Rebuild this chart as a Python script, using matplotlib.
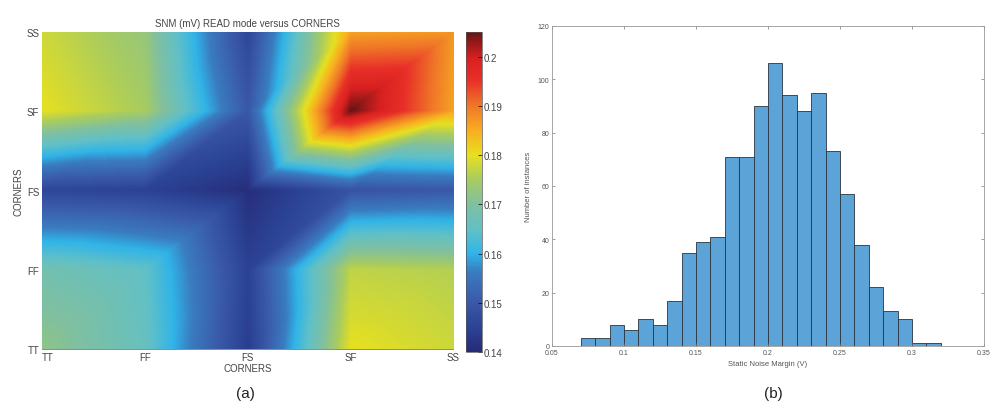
import numpy as np
import matplotlib.pyplot as plt
import matplotlib.tri as mtri
from matplotlib.colors import LinearSegmentedColormap

plt.rcParams['font.family'] = ['Liberation Sans', 'DejaVu Sans']

# -------------------------------------------------------------------
# ------------ DATA
# -------------------------------------------------------------------

# process corners on both axes (bottom -> top, left -> right)
corners = ['TT', 'FF', 'FS', 'SF', 'SS']

# SNM values, one list per y corner, cols = x corner (TT..SS)
snm_tt = [0.172, 0.166, 0.144, 0.180, 0.178]
snm_ff = [0.168, 0.165, 0.145, 0.177, 0.176]
snm_fs = [0.146, 0.145, 0.141, 0.149, 0.150]
snm_sf = [0.180, 0.175, 0.150, 0.205, 0.186]
snm_ss = [0.178, 0.173, 0.146, 0.186, 0.187]

# histogram of static noise margin (Monte Carlo)
bin_edges = [0.07, 0.08, 0.09, 0.10, 0.11, 0.12, 0.13, 0.14, 0.15, 0.16, 0.17, 0.18, 0.19,
             0.20, 0.21, 0.22, 0.23, 0.24, 0.25, 0.26, 0.27, 0.28, 0.29, 0.30, 0.31, 0.32]
counts = [3, 3, 8, 6, 10, 8, 17, 35, 39, 41, 71, 71, 90,
          106, 94, 88, 95, 73, 57, 38, 22, 13, 10, 1, 1]

# colours sampled from the printed colour bar (jet-like)
cmap_colors = ['#262a78', '#2c4496', '#3a58a8', '#3a7cc0', '#30b4e8', '#60c0c8', '#80c0a0',
               '#a8cc60', '#e6e020', '#f8b020', '#f07828', '#e83028', '#d82020', '#6a1414']
cmap_pos = [0.0, 0.08, 0.154, 0.25, 0.308, 0.38, 0.462, 0.54, 0.615, 0.69, 0.77, 0.85, 0.92, 1.0]

# -------------------------------------------------------------------
# ------------ PLOT
# -------------------------------------------------------------------

cmap = LinearSegmentedColormap.from_list('printjet', list(zip(cmap_pos, cmap_colors)))

fig = plt.figure(figsize=(9.94, 4.10), dpi=100)

# (a) corner map -- each cell split in two triangles, values interpolated linearly
ax1 = fig.add_axes([0.0423, 0.1463, 0.4135, 0.7732])
grid = np.array([snm_tt, snm_ff, snm_fs, snm_sf, snm_ss])
n = len(corners)
gx, gy = np.meshgrid(np.arange(1, n + 1), np.arange(1, n + 1))
tris = []
for j in range(n - 1):
    for i in range(n - 1):
        k = j * n + i
        tris.append([k, k + 1, k + n + 1])
        tris.append([k, k + n + 1, k + n])
tri = mtri.Triangulation(gx.ravel(), gy.ravel(), tris)
interp = mtri.LinearTriInterpolator(tri, grid.ravel())
fx, fy = np.meshgrid(np.linspace(1, n, 600), np.linspace(1, n, 480))
fz = interp(fx, fy)
im = ax1.imshow(fz, origin='lower', extent=(1, n, 1, n), aspect='auto', cmap=cmap,
                vmin=0.14, vmax=0.205, interpolation='bilinear')
ax1.set_xlim(1, n)
ax1.set_ylim(1, n)
ax1.set_xticks(range(1, n + 1))
ax1.set_yticks(range(1, n + 1))
ax1.set_xticklabels(corners, fontsize=7, color='#444444')
ax1.set_yticklabels(corners, fontsize=7, color='#444444')
ax1.tick_params(length=0, pad=2)
ax1.get_xticklabels()[0].set_horizontalalignment('left')
for s in ax1.spines.values():
    s.set_visible(False)
ax1.spines['bottom'].set_visible(True)
ax1.spines['bottom'].set_color('#777777')
ax1.spines['bottom'].set_linewidth(0.6)
ax1.set_xlabel('CORNERS', fontsize=7, color='#444444', labelpad=1)
ax1.set_ylabel('CORNERS', fontsize=7, color='#444444', labelpad=2)
ax1.set_title('SNM (mV) READ mode versus CORNERS', fontsize=7, color='#444444', pad=4)

cax = fig.add_axes([0.4688, 0.139, 0.0161, 0.780])
cb = fig.colorbar(im, cax=cax, ticks=[0.14, 0.15, 0.16, 0.17, 0.18, 0.19, 0.2])
cb.ax.set_yticklabels(['0.14', '0.15', '0.16', '0.17', '0.18', '0.19', '0.2'])
cb.ax.tick_params(labelsize=7, labelcolor='#444444', length=3, width=0.5, direction='in', pad=1)
cb.outline.set_linewidth(0.5)
cb.outline.set_edgecolor('#555555')

# (b) histogram
ax2 = fig.add_axes([0.5553, 0.1537, 0.4346, 0.7805])
ax2.bar(bin_edges[:-1], counts, width=0.01, align='edge', facecolor='#5ca4d8',
        edgecolor='#2a3440', linewidth=0.6)
ax2.set_xlim(0.05, 0.35)
ax2.set_ylim(0, 120)
ax2.set_xticks([0.05, 0.1, 0.15, 0.2, 0.25, 0.3, 0.35])
ax2.set_xticklabels(['0.05', '0.1', '0.15', '0.2', '0.25', '0.3', '0.35'])
ax2.set_yticks([0, 20, 40, 60, 80, 100, 120])
ax2.tick_params(labelsize=5, labelcolor='#555555', length=2.5, width=0.5, color='#777777',
                direction='in', top=True, right=True, pad=2)
for s in ax2.spines.values():
    s.set_color('#999999')
    s.set_linewidth(0.6)
ax2.set_xlabel('Static Noise Margin (V)', fontsize=5.5, color='#555555', labelpad=3)
ax2.set_ylabel('Number of instances', fontsize=5.5, color='#555555', labelpad=4)

fig.text(0.2465, 0.038, '(a)', fontsize=11, color='#222222', ha='center', va='center')
fig.text(0.7777, 0.038, '(b)', fontsize=11, color='#222222', ha='center', va='center')

fig.savefig('out.png', dpi=100)
